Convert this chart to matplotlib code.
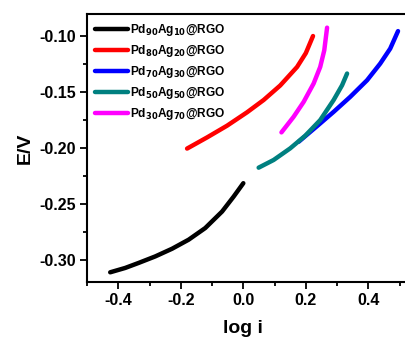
import matplotlib
matplotlib.use('Agg')
import matplotlib.pyplot as plt
from matplotlib.ticker import MultipleLocator

plt.rcParams['font.family'] = ['Liberation Sans', 'DejaVu Sans']
plt.rcParams['font.weight'] = 'bold'
plt.rcParams['mathtext.default'] = 'bf'

# Tafel data: log i vs potential for each catalyst
logi_90 = [-0.426, -0.378, -0.335, -0.282, -0.228, -0.175, -0.122, -0.068, -0.031, 0.0]
E_90    = [-0.3113, -0.3074, -0.3029, -0.2971, -0.2902, -0.2821, -0.2717, -0.2569, -0.2435, -0.2315]

logi_80 = [-0.180, -0.116, -0.052, 0.012, 0.065, 0.118, 0.172, 0.200, 0.223]
E_80    = [-0.2005, -0.1905, -0.1800, -0.1680, -0.1570, -0.1440, -0.1274, -0.1150, -0.0997]

logi_70 = [0.177, 0.236, 0.289, 0.342, 0.396, 0.438, 0.470, 0.495]
E_70    = [-0.1944, -0.1804, -0.1676, -0.1542, -0.1393, -0.1244, -0.1110, -0.0953]

logi_50 = [0.049, 0.097, 0.150, 0.198, 0.246, 0.289, 0.316, 0.332]
E_50    = [-0.2176, -0.2107, -0.2003, -0.1890, -0.1750, -0.1570, -0.1438, -0.1333]

logi_30 = [0.122, 0.161, 0.193, 0.225, 0.246, 0.259, 0.268]
E_30    = [-0.1860, -0.1720, -0.1587, -0.1422, -0.1274, -0.1125, -0.0922]

labels = [r'Pd$_{90}$Ag$_{10}$@RGO', r'Pd$_{80}$Ag$_{20}$@RGO', r'Pd$_{70}$Ag$_{30}$@RGO',
          r'Pd$_{50}$Ag$_{50}$@RGO', r'Pd$_{30}$Ag$_{70}$@RGO']
colors = ['black', 'red', 'blue', '#008080', 'magenta']

fig = plt.figure(figsize=(4.05, 3.42), dpi=100)
ax = fig.add_axes([0.215, 0.1754, 0.8102, 0.7836])

series = [(logi_90, E_90), (logi_80, E_80), (logi_70, E_70), (logi_50, E_50), (logi_30, E_30)]
for (x, y), lab, c in zip(series, labels, colors):
    ax.plot(x, y, color=c, lw=3.2, solid_capstyle='round', solid_joinstyle='round', label=lab)

ax.set_xlim(-0.5, 0.55)
ax.set_ylim(-0.32, -0.08)
ax.xaxis.set_major_locator(MultipleLocator(0.2))
ax.xaxis.set_minor_locator(MultipleLocator(0.1))
ax.yaxis.set_major_locator(MultipleLocator(0.05))
ax.yaxis.set_minor_locator(MultipleLocator(0.025))
ax.xaxis.set_major_formatter(plt.FuncFormatter(lambda v, p: f'{v:.1f}'))
ax.yaxis.set_major_formatter(plt.FuncFormatter(lambda v, p: f'{v:.2f}'))

ax.tick_params(which='major', direction='out', length=5, width=1.3, labelsize=11.5, pad=3)
ax.tick_params(which='minor', direction='out', length=3, width=1.3)
ax.tick_params(top=False, right=False)
for s in ax.spines.values():
    s.set_linewidth(1.5)

ax.set_xlabel('log i', fontsize=14, fontweight='bold')
ax.xaxis.set_label_coords(0.0, -0.14, transform=ax.get_xaxis_transform())
ax.set_ylabel('E/V', fontsize=14, fontweight='bold', labelpad=4)

ax.legend(loc='upper left', frameon=False, handlelength=2.75,
          handletextpad=0.15, labelspacing=0.42, borderaxespad=0.3,
          prop={'weight': 'bold', 'size': 8.6})

fig.savefig('out.png', dpi=100)
